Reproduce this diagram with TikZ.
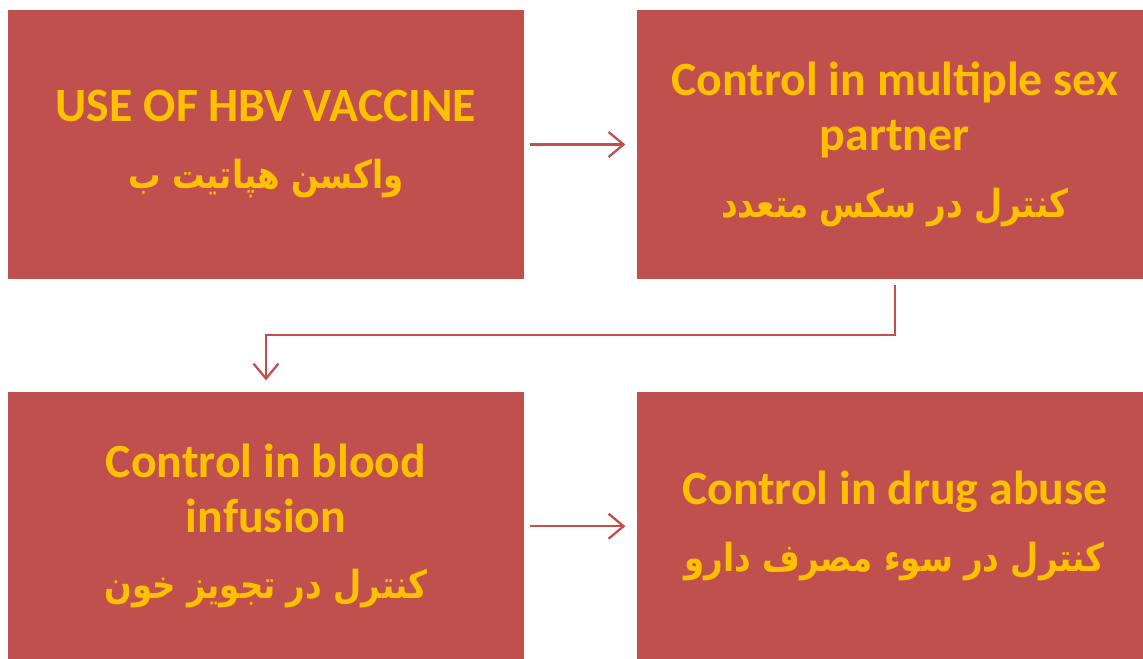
\documentclass[tikz,border=0pt]{standalone}
\usepackage{fontspec}
\setmainfont{Carlito}
\newfontfamily\farsi[Script=Arabic, FakeStretch=0.84]{DejaVu Sans}
\TeXXeTstate=1
\usetikzlibrary{arrows.meta,positioning}
\definecolor{boxred}{HTML}{C0504D}
\definecolor{textgold}{HTML}{FFC000}
\tikzstyle{ctrl} = [fill=boxred, rectangle, minimum width=10.32cm, minimum height=5.38cm, align=center, text=textgold, font=\bfseries\fontsize{27.2}{31}\selectfont]
\tikzstyle{link} = [draw=boxred, line width=1.3pt, ->, shorten <=0.12cm, shorten >=0.22cm]
\newcommand{\fa}[1]{{\farsi\bfseries\fontsize{22}{30}\selectfont\beginR #1\endR}}

\begin{document}
\begin{tikzpicture}[node distance=2.24cm, >={Straight Barb[length=0.3cm,width=0.5cm]}]
    \useasboundingbox (0,0) rectangle (22.86,-13.16);
    \node [ctrl] (vaccine) at (5.32,-2.89) {USE OF HBV VACCINE\\[0.25cm] \fa{واکسن هپاتیت ب}};
    \node [ctrl, right=of vaccine] (partner) {Control in multiple sex\\partner\\[0.25cm] \fa{کنترل در سکس متعدد}};
    \node [ctrl, below=of vaccine] (blood) {Control in blood\\infusion\\[0.25cm] \fa{کنترل در تجویز خون}};
    \node [ctrl, right=of blood] (drug) {Control in drug abuse\\[0.25cm] \fa{کنترل در سوء مصرف دارو}};

    % arrows between the boxes
    \draw [link] (vaccine) -- (partner);
    \draw [link] (partner.south) -- ++(0,-1.12) -| (blood.north);
    \draw [link] (blood) -- (drug);
\end{tikzpicture}
\end{document}
